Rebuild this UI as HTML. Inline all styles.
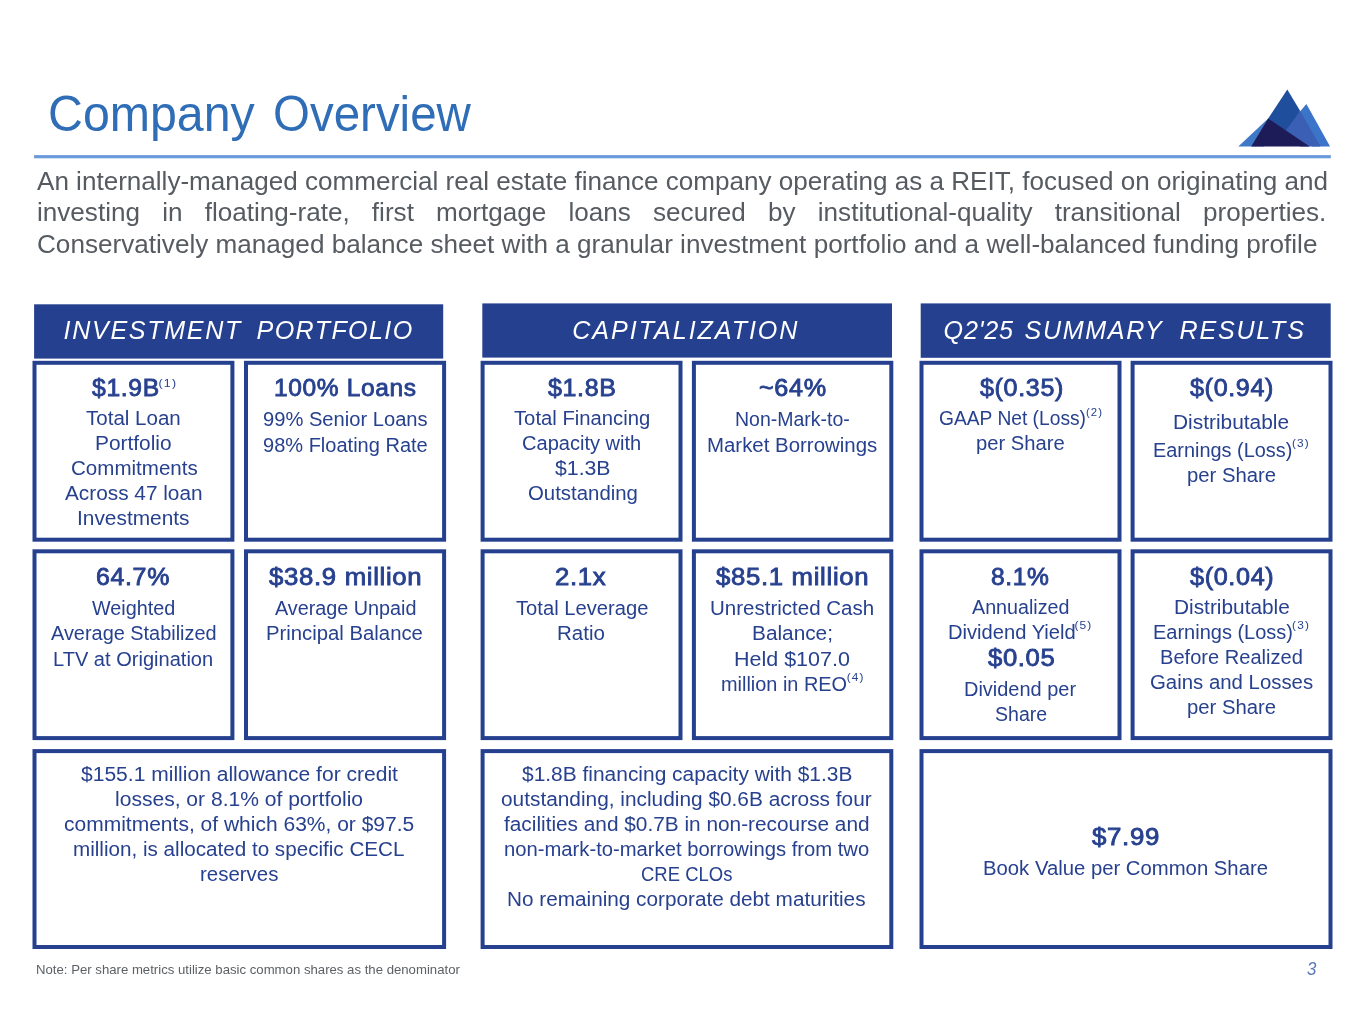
<!DOCTYPE html>
<html lang="en"><head><meta charset="utf-8"><title>Company Overview</title>
<style>
html,body{margin:0;padding:0;background:#fff}
body{width:1365px;height:1024px;position:relative;overflow:hidden;font-family:"Liberation Sans",Arial,sans-serif}
.t{position:absolute;white-space:nowrap;transform-origin:0 50%;margin:0}
.r{font-size:19.4px;line-height:22px;color:#27418F}
.b{font-size:23.0px;line-height:26px;font-weight:400;-webkit-text-stroke:0.8px #27418F;letter-spacing:0.6px;color:#27418F}
.sup{position:relative;line-height:0;display:inline-block;font-weight:400;-webkit-text-stroke:0}
.title{color:#2F6DB6}
.hd{color:#fff;font-style:italic}
.note{color:#5c6166}
.pg{color:#5577B5;font-style:italic}
.p{font-size:25.0px;line-height:28px;color:#555b61}
.j{white-space:normal;text-align:justify;text-align-last:justify}
.bx{position:absolute;box-sizing:border-box;border:4.0px solid #25408F;background:#fff}
.hb{position:absolute;background:#25408F}
.rule{position:absolute;left:34.1px;top:155px;width:1296.7px;height:3px;background:#6A9ADB}
</style></head><body>
<svg class="logo" style="position:absolute;left:1230px;top:80px" width="110" height="70" viewBox="1230 80 110 70">
<polygon points="1306.4,104.1 1292,121 1312,146.5 1330.1,146.5" fill="#3B74C8"/>
<polygon points="1300.2,111.1 1280,134 1300,146.5 1320.5,146.5" fill="#3A5FB4"/>
<polygon points="1287.3,89.5 1268.2,118.6 1266,124 1284,133 1300.2,111.1" fill="#1F4E9C"/>
<polygon points="1238.3,146.5 1268.2,118.6 1264,146.5" fill="#3F78C6"/>
<polygon points="1268.2,118.6 1251.2,146.5 1309.7,146.5" fill="#1E1C58"/>
</svg>
<svg style="position:absolute;left:0;top:0" width="1365" height="1024" viewBox="0 0 1365 1024"><rect x="34.1" y="304.3" width="409.1" height="54.3" fill="#25408F"/><rect x="482.3" y="303.4" width="409.7" height="54.2" fill="#25408F"/><rect x="920.7" y="303.4" width="410.0" height="54.4" fill="#25408F"/><rect x="34.1" y="155.1" width="1296.7" height="3.2" fill="#6A9ADB"/></svg>
<svg style="position:absolute;left:0;top:0" width="1365" height="1024" viewBox="0 0 1365 1024"><rect x="34.50" y="362.80" width="197.90" height="176.90" fill="#fff" stroke="#25408F" stroke-width="4.0"/><rect x="246.00" y="362.80" width="198.10" height="176.90" fill="#fff" stroke="#25408F" stroke-width="4.0"/><rect x="34.50" y="551.30" width="197.90" height="186.80" fill="#fff" stroke="#25408F" stroke-width="4.0"/><rect x="246.00" y="551.30" width="198.10" height="186.80" fill="#fff" stroke="#25408F" stroke-width="4.0"/><rect x="34.50" y="751.10" width="409.60" height="195.90" fill="#fff" stroke="#25408F" stroke-width="4.0"/><rect x="482.60" y="362.80" width="197.90" height="176.90" fill="#fff" stroke="#25408F" stroke-width="4.0"/><rect x="693.90" y="362.80" width="197.40" height="176.90" fill="#fff" stroke="#25408F" stroke-width="4.0"/><rect x="482.60" y="551.30" width="197.90" height="186.80" fill="#fff" stroke="#25408F" stroke-width="4.0"/><rect x="693.90" y="551.30" width="197.40" height="186.80" fill="#fff" stroke="#25408F" stroke-width="4.0"/><rect x="482.60" y="751.10" width="408.70" height="195.90" fill="#fff" stroke="#25408F" stroke-width="4.0"/><rect x="921.50" y="362.80" width="198.00" height="176.90" fill="#fff" stroke="#25408F" stroke-width="4.0"/><rect x="1132.60" y="362.80" width="197.90" height="176.90" fill="#fff" stroke="#25408F" stroke-width="4.0"/><rect x="921.50" y="551.30" width="198.00" height="186.80" fill="#fff" stroke="#25408F" stroke-width="4.0"/><rect x="1132.60" y="551.30" width="197.90" height="186.80" fill="#fff" stroke="#25408F" stroke-width="4.0"/><rect x="921.50" y="751.10" width="409.00" height="195.90" fill="#fff" stroke="#25408F" stroke-width="4.0"/></svg>
<div class="t b" style="left:91.73px;top:375.00px;transform:scaleX(1.0736)">$1.9B<span class="sup" style="font-size:11.5px;letter-spacing:1.1px;margin-left:-1.13px;top:-9.4px">(1)</span></div>
<div class="t r" style="left:86.20px;top:407.00px;transform:scaleX(1.0587)">Total Loan</div>
<div class="t r" style="left:94.92px;top:432.00px;transform:scaleX(1.0772)">Portfolio</div>
<div class="t r" style="left:70.50px;top:457.00px;transform:scaleX(1.0597)">Commitments</div>
<div class="t r" style="left:65.00px;top:482.00px;transform:scaleX(1.0723)">Across 47 loan</div>
<div class="t r" style="left:77.22px;top:507.00px;transform:scaleX(1.0764)">Investments</div>
<div class="t b" style="left:274.16px;top:375.00px;transform:scaleX(1.0658)">100% Loans</div>
<div class="t r" style="left:263.20px;top:408.00px;transform:scaleX(1.0388)">99% Senior Loans</div>
<div class="t r" style="left:263.20px;top:434.00px;transform:scaleX(1.0325)">98% Floating Rate</div>
<div class="t b" style="left:96.45px;top:564.00px;transform:scaleX(1.0842)">64.7%</div>
<div class="t r" style="left:92.20px;top:597.00px;transform:scaleX(1.0213)">Weighted</div>
<div class="t r" style="left:50.90px;top:622.00px;transform:scaleX(1.0265)">Average Stabilized</div>
<div class="t r" style="left:53.27px;top:648.00px;transform:scaleX(1.0343)">LTV at Origination</div>
<div class="t b" style="left:268.75px;top:564.00px;transform:scaleX(1.1200)">$38.9 million</div>
<div class="t r" style="left:275.00px;top:597.00px;transform:scaleX(1.0201)">Average Unpaid</div>
<div class="t r" style="left:266.25px;top:622.00px;transform:scaleX(1.0470)">Principal Balance</div>
<div class="t r" style="left:80.70px;top:763.00px;transform:scaleX(1.0851)">$155.1 million allowance for credit</div>
<div class="t r" style="left:115.11px;top:788.00px;transform:scaleX(1.0855)">losses, or 8.1% of portfolio</div>
<div class="t r" style="left:63.90px;top:813.00px;transform:scaleX(1.0833)">commitments, of which 63%, or $97.5</div>
<div class="t r" style="left:72.64px;top:838.00px;transform:scaleX(1.0642)">million, is allocated to specific CECL</div>
<div class="t r" style="left:199.65px;top:863.00px;transform:scaleX(1.0543)">reserves</div>
<div class="t b" style="left:547.73px;top:375.00px;transform:scaleX(1.0863)">$1.8B</div>
<div class="t r" style="left:514.10px;top:407.00px;transform:scaleX(1.0444)">Total Financing</div>
<div class="t r" style="left:522.00px;top:432.00px;transform:scaleX(1.0338)">Capacity with</div>
<div class="t r" style="left:554.50px;top:457.00px;transform:scaleX(1.0957)">$1.3B</div>
<div class="t r" style="left:527.50px;top:482.00px;transform:scaleX(1.0512)">Outstanding</div>
<div class="t b" style="left:758.64px;top:375.00px;transform:scaleX(1.0954)">~64%</div>
<div class="t r" style="left:735.00px;top:408.00px;transform:scaleX(1.0049)">Non-Mark-to-</div>
<div class="t r" style="left:707.25px;top:434.00px;transform:scaleX(1.0529)">Market Borrowings</div>
<div class="t b" style="left:555.03px;top:564.00px;transform:scaleX(1.1191)">2.1x</div>
<div class="t r" style="left:515.70px;top:597.00px;transform:scaleX(1.0410)">Total Leverage</div>
<div class="t r" style="left:557.24px;top:622.00px;transform:scaleX(1.0579)">Ratio</div>
<div class="t b" style="left:716.15px;top:564.00px;transform:scaleX(1.1193)">$85.1 million</div>
<div class="t r" style="left:709.94px;top:597.00px;transform:scaleX(1.0580)">Unrestricted Cash</div>
<div class="t r" style="left:752.23px;top:622.00px;transform:scaleX(1.0729)">Balance;</div>
<div class="t r" style="left:733.89px;top:648.00px;transform:scaleX(1.1080)">Held $107.0</div>
<div class="t r" style="left:720.67px;top:673.00px;transform:scaleX(1.0266)">million in REO<span class="sup" style="font-size:11.5px;letter-spacing:1.1px;margin-left:-0.34px;top:-10.5px">(4)</span></div>
<div class="t r" style="left:522.30px;top:763.00px;transform:scaleX(1.0793)">$1.8B financing capacity with $1.3B</div>
<div class="t r" style="left:501.00px;top:788.00px;transform:scaleX(1.0747)">outstanding, including $0.6B across four</div>
<div class="t r" style="left:504.30px;top:813.00px;transform:scaleX(1.0732)">facilities and $0.7B in non-recourse and</div>
<div class="t r" style="left:503.96px;top:838.00px;transform:scaleX(1.0427)">non-mark-to-market borrowings from two</div>
<div class="t r" style="left:641.00px;top:863.00px;transform:scaleX(0.9528)">CRE CLOs</div>
<div class="t r" style="left:507.23px;top:888.00px;transform:scaleX(1.0696)">No remaining corporate debt maturities</div>
<div class="t b" style="left:979.54px;top:375.00px;transform:scaleX(1.0899)">$(0.35)</div>
<div class="t r" style="left:939.10px;top:407.00px;transform:scaleX(0.9909)">GAAP Net (Loss)<span class="sup" style="font-size:11.5px;letter-spacing:1.1px;margin-left:-0.13px;top:-9.5px">(2)</span></div>
<div class="t r" style="left:976.16px;top:432.00px;transform:scaleX(1.0423)">per Share</div>
<div class="t b" style="left:1190.24px;top:375.00px;transform:scaleX(1.0912)">$(0.94)</div>
<div class="t r" style="left:1173.42px;top:411.00px;transform:scaleX(1.0774)">Distributable</div>
<div class="t r" style="left:1153.27px;top:439.00px;transform:scaleX(1.0258)">Earnings (Loss)<span class="sup" style="font-size:11.5px;letter-spacing:1.1px;margin-left:-0.31px;top:-9.8px">(3)</span></div>
<div class="t r" style="left:1186.65px;top:464.00px;transform:scaleX(1.0471)">per Share</div>
<div class="t b" style="left:991.26px;top:564.00px;transform:scaleX(1.0696)">8.1%</div>
<div class="t r" style="left:972.20px;top:596.00px;transform:scaleX(1.0161)">Annualized</div>
<div class="t r" style="left:948.26px;top:621.00px;transform:scaleX(1.0391)">Dividend Yield<span class="sup" style="font-size:11.5px;letter-spacing:1.1px;margin-left:-1.23px;top:-10.5px">(5)</span></div>
<div class="t b" style="left:987.55px;top:645.00px;transform:scaleX(1.1140)">$0.05</div>
<div class="t r" style="left:963.77px;top:678.00px;transform:scaleX(1.0295)">Dividend per</div>
<div class="t r" style="left:994.70px;top:703.00px;transform:scaleX(1.0067)">Share</div>
<div class="t b" style="left:1190.14px;top:564.00px;transform:scaleX(1.0951)">$(0.04)</div>
<div class="t r" style="left:1173.53px;top:596.00px;transform:scaleX(1.0746)">Distributable</div>
<div class="t r" style="left:1153.07px;top:621.00px;transform:scaleX(1.0310)">Earnings (Loss)<span class="sup" style="font-size:11.5px;letter-spacing:1.1px;margin-left:-0.88px;top:-10.5px">(3)</span></div>
<div class="t r" style="left:1160.06px;top:646.00px;transform:scaleX(1.0354)">Before Realized</div>
<div class="t r" style="left:1150.20px;top:671.00px;transform:scaleX(1.0510)">Gains and Losses</div>
<div class="t r" style="left:1186.95px;top:696.00px;transform:scaleX(1.0471)">per Share</div>
<div class="t b" style="left:1092.15px;top:824.00px;transform:scaleX(1.1240)">$7.99</div>
<div class="t r" style="left:982.95px;top:857.00px;transform:scaleX(1.0464)">Book Value per Common Share</div>
<div class="t title" style="left:47.67px;top:86.00px;font-size:50.0px;line-height:56px;transform:scaleX(0.9661)">Company</div>
<div class="t title" style="left:272.50px;top:86.00px;font-size:50.0px;line-height:56px;transform:scaleX(0.9495)">Overview</div>
<div class="t hd" style="left:63.60px;top:316.00px;font-size:25.1px;line-height:28px;letter-spacing:1.667px">INVESTMENT</div>
<div class="t hd" style="left:256.60px;top:316.00px;font-size:25.1px;line-height:28px;letter-spacing:1.384px">PORTFOLIO</div>
<div class="t hd" style="left:572.30px;top:316.00px;font-size:25.1px;line-height:28px;letter-spacing:1.945px">CAPITALIZATION</div>
<div class="t hd" style="left:943.60px;top:316.00px;font-size:25.1px;line-height:28px;letter-spacing:0.795px">Q2'25</div>
<div class="t hd" style="left:1024.60px;top:316.00px;font-size:25.1px;line-height:28px;letter-spacing:1.651px">SUMMARY</div>
<div class="t hd" style="left:1179.60px;top:316.00px;font-size:25.1px;line-height:28px;letter-spacing:1.743px">RESULTS</div>
<div class="t note" style="left:35.56px;top:963.00px;font-size:12.7px;line-height:14px;transform:scaleX(1.0381)">Note: Per share metrics utilize basic common shares as the denominator</div>
<div class="t pg" style="left:1306.50px;top:958.00px;font-size:18.5px;line-height:21px;transform:scaleX(0.9091)">3</div>
<div class="t p" style="left:37.30px;top:167.00px;transform:scaleX(1.0426)">An internally-managed commercial real estate finance company operating as a REIT, focused on originating and</div>
<div class="t p j" style="left:37.26px;top:198.00px;width:1235.41px;transform:scaleX(1.0436)">investing in floating-rate, first mortgage loans secured by institutional-quality transitional properties.</div>
<div class="t p" style="left:36.56px;top:230.00px;transform:scaleX(1.0446)">Conservatively managed balance sheet with a granular investment portfolio and a well-balanced funding profile</div>
</body></html>
